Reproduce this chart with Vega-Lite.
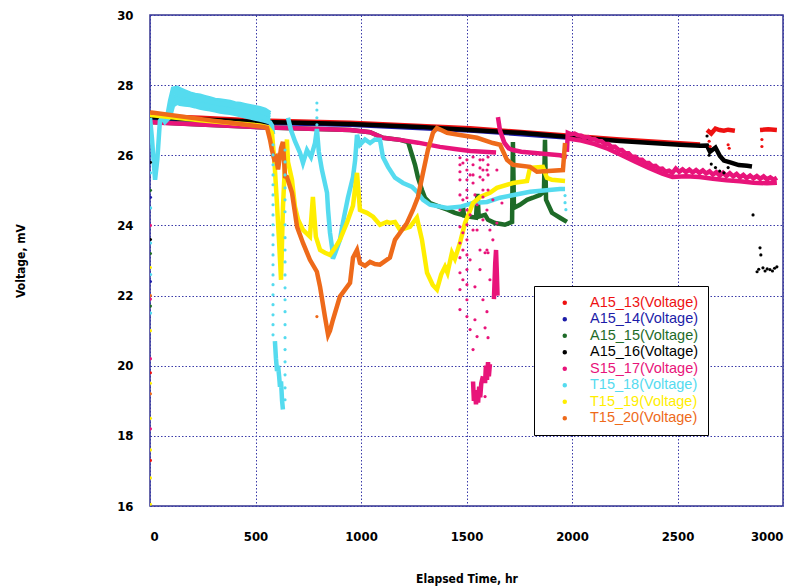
{
"$schema": "https://vega.github.io/schema/vega-lite/v6.json",
"width": 633, "height": 491,
"autosize": {"type": "none"},
"padding": {"left": 150, "top": 15, "right": 17, "bottom": 81},
"background": "white",
"config": {
  "view": {"stroke": "#34348f", "strokeWidth": 1.5},
  "axis": {"labelFont": "'Liberation Sans Narrow', 'DejaVu Sans Condensed', 'Liberation Sans', sans-serif", "labelFontWeight": "bold", "labelFontSize": 13, "labelColor": "#000",
    "titleFont": "'Liberation Sans Narrow', 'DejaVu Sans Condensed', 'Liberation Sans', sans-serif", "titleFontWeight": "bold", "titleFontSize": 12, "titleColor": "#000",
    "gridColor": "#3a3aa8", "gridDash": [1.5, 2], "gridWidth": 1, "gridOpacity": 1, "domain": false, "ticks": false}
},
"datasets": {
"lines": [
{"s":"A15_13","g":"r1","t":0,"v":27.12},{"s":"A15_13","g":"r1","t":237,"v":27.07},{"s":"A15_13","g":"r1","t":521,"v":26.99},{"s":"A15_13","g":"r1","t":948,"v":26.93},{"s":"A15_13","g":"r1","t":1517,"v":26.77},{"s":"A15_13","g":"r1","t":1990,"v":26.56},{"s":"A15_13","g":"r1","t":2227,"v":26.45},{"s":"A15_13","g":"r1","t":2512,"v":26.34},{"s":"A15_13","g":"r1","t":2607,"v":26.31},
{"s":"A15_13","g":"r2","t":2640,"v":26.72},{"s":"A15_13","g":"r2","t":2660,"v":26.62},{"s":"A15_13","g":"r2","t":2680,"v":26.76},{"s":"A15_13","g":"r2","t":2700,"v":26.72},{"s":"A15_13","g":"r2","t":2720,"v":26.70},{"s":"A15_13","g":"r2","t":2740,"v":26.73},{"s":"A15_13","g":"r2","t":2772,"v":26.70},
{"s":"A15_13","g":"r3","t":2891,"v":26.72},{"s":"A15_13","g":"r3","t":2930,"v":26.74},{"s":"A15_13","g":"r3","t":2971,"v":26.72},
{"s":"A15_14","g":"b1","t":0,"v":27.06},{"s":"A15_14","g":"b1","t":521,"v":26.93},{"s":"A15_14","g":"b1","t":948,"v":26.87},{"s":"A15_14","g":"b1","t":1517,"v":26.71},{"s":"A15_14","g":"b1","t":1990,"v":26.50},
{"s":"A15_15","g":"gr1","t":0,"v":26.95},{"s":"A15_15","g":"gr1","t":237,"v":26.88},{"s":"A15_15","g":"gr1","t":521,"v":26.80},{"s":"A15_15","g":"gr1","t":948,"v":26.72},{"s":"A15_15","g":"gr1","t":1043,"v":26.66},{"s":"A15_15","g":"gr1","t":1104,"v":26.50},{"s":"A15_15","g":"gr1","t":1185,"v":26.44},{"s":"A15_15","g":"gr1","t":1223,"v":26.38},{"s":"A15_15","g":"gr1","t":1256,"v":25.73},{"s":"A15_15","g":"gr1","t":1270,"v":25.36},{"s":"A15_15","g":"gr1","t":1289,"v":25.01},{"s":"A15_15","g":"gr1","t":1303,"v":24.79},{"s":"A15_15","g":"gr1","t":1327,"v":24.64},{"s":"A15_15","g":"gr1","t":1374,"v":24.53},{"s":"A15_15","g":"gr1","t":1410,"v":24.45},{"s":"A15_15","g":"gr1","t":1445,"v":24.36},{"s":"A15_15","g":"gr1","t":1479,"v":24.30},{"s":"A15_15","g":"gr1","t":1483,"v":24.55},{"s":"A15_15","g":"gr1","t":1488,"v":24.28},{"s":"A15_15","g":"gr1","t":1517,"v":24.25},{"s":"A15_15","g":"gr1","t":1545,"v":24.22},{"s":"A15_15","g":"gr1","t":1552,"v":24.90},{"s":"A15_15","g":"gr1","t":1558,"v":24.25},{"s":"A15_15","g":"gr1","t":1588,"v":24.30},{"s":"A15_15","g":"gr1","t":1602,"v":24.16},{"s":"A15_15","g":"gr1","t":1635,"v":24.07},{"s":"A15_15","g":"gr1","t":1682,"v":24.02},{"s":"A15_15","g":"gr1","t":1716,"v":24.10},{"s":"A15_15","g":"gr1","t":1720,"v":26.38},{"s":"A15_15","g":"gr1","t":1725,"v":24.50},{"s":"A15_15","g":"gr1","t":1753,"v":24.59},{"s":"A15_15","g":"gr1","t":1787,"v":24.73},{"s":"A15_15","g":"gr1","t":1815,"v":24.79},{"s":"A15_15","g":"gr1","t":1848,"v":24.87},{"s":"A15_15","g":"gr1","t":1867,"v":24.96},{"s":"A15_15","g":"gr1","t":1872,"v":26.44},{"s":"A15_15","g":"gr1","t":1877,"v":24.73},{"s":"A15_15","g":"gr1","t":1905,"v":24.36},{"s":"A15_15","g":"gr1","t":1943,"v":24.22},{"s":"A15_15","g":"gr1","t":1976,"v":24.10},
{"s":"A15_16","g":"k1","t":0,"v":27.09},{"s":"A15_16","g":"k1","t":95,"v":27.06},{"s":"A15_16","g":"k1","t":237,"v":27.02},{"s":"A15_16","g":"k1","t":521,"v":26.95},{"s":"A15_16","g":"k1","t":700,"v":26.93},{"s":"A15_16","g":"k1","t":948,"v":26.89},{"s":"A15_16","g":"k1","t":1280,"v":26.81},{"s":"A15_16","g":"k1","t":1517,"v":26.72},{"s":"A15_16","g":"k1","t":1754,"v":26.64},{"s":"A15_16","g":"k1","t":1990,"v":26.52},{"s":"A15_16","g":"k1","t":2227,"v":26.41},{"s":"A15_16","g":"k1","t":2512,"v":26.30},{"s":"A15_16","g":"k1","t":2607,"v":26.27},{"s":"A15_16","g":"k1","t":2640,"v":26.28},{"s":"A15_16","g":"k1","t":2654,"v":26.10},{"s":"A15_16","g":"k1","t":2680,"v":26.22},{"s":"A15_16","g":"k1","t":2701,"v":25.98},{"s":"A15_16","g":"k1","t":2720,"v":25.85},{"s":"A15_16","g":"k1","t":2750,"v":25.80},{"s":"A15_16","g":"k1","t":2790,"v":25.72},{"s":"A15_16","g":"k1","t":2830,"v":25.70},{"s":"A15_16","g":"k1","t":2853,"v":25.68},
{"s":"S15_17","g":"p1","t":0,"v":26.95},{"s":"S15_17","g":"p1","t":47,"v":26.93},{"s":"S15_17","g":"p1","t":237,"v":26.88},{"s":"S15_17","g":"p1","t":521,"v":26.80},{"s":"S15_17","g":"p1","t":948,"v":26.72},{"s":"S15_17","g":"p1","t":1043,"v":26.66},{"s":"S15_17","g":"p1","t":1104,"v":26.50},{"s":"S15_17","g":"p1","t":1185,"v":26.44},{"s":"S15_17","g":"p1","t":1270,"v":26.36},{"s":"S15_17","g":"p1","t":1374,"v":26.24},{"s":"S15_17","g":"p1","t":1445,"v":26.18},{"s":"S15_17","g":"p1","t":1517,"v":26.12},{"s":"S15_17","g":"p1","t":1580,"v":26.10},{"s":"S15_17","g":"p1","t":1640,"v":26.08},
{"s":"S15_17","g":"p2","t":1649,"v":27.09},{"s":"S15_17","g":"p2","t":1659,"v":26.70},{"s":"S15_17","g":"p2","t":1680,"v":26.35},{"s":"S15_17","g":"p2","t":1700,"v":26.20},{"s":"S15_17","g":"p2","t":1720,"v":26.15},{"s":"S15_17","g":"p2","t":1760,"v":26.10},{"s":"S15_17","g":"p2","t":1850,"v":26.05},{"s":"S15_17","g":"p2","t":1943,"v":26.00},{"s":"S15_17","g":"p2","t":1976,"v":25.95},
{"s":"S15_17","g":"p3","t":1630,"v":21.90},{"s":"S15_17","g":"p3","t":1633,"v":22.40},{"s":"S15_17","g":"p3","t":1636,"v":22.90},{"s":"S15_17","g":"p3","t":1640,"v":23.30},{"s":"S15_17","g":"p3","t":1644,"v":22.60},{"s":"S15_17","g":"p3","t":1647,"v":22.00},
{"s":"S15_17","g":"p4","t":1531,"v":19.55},{"s":"S15_17","g":"p4","t":1535,"v":19.00},{"s":"S15_17","g":"p4","t":1540,"v":19.30},{"s":"S15_17","g":"p4","t":1545,"v":18.90},{"s":"S15_17","g":"p4","t":1550,"v":19.20},{"s":"S15_17","g":"p4","t":1555,"v":18.95},{"s":"S15_17","g":"p4","t":1560,"v":19.40},{"s":"S15_17","g":"p4","t":1565,"v":19.10},{"s":"S15_17","g":"p4","t":1570,"v":19.50},{"s":"S15_17","g":"p4","t":1578,"v":19.70},
{"s":"S15_17","g":"p5","t":1588,"v":19.50},{"s":"S15_17","g":"p5","t":1592,"v":20.00},{"s":"S15_17","g":"p5","t":1597,"v":19.60},{"s":"S15_17","g":"p5","t":1602,"v":20.10},{"s":"S15_17","g":"p5","t":1606,"v":19.70},{"s":"S15_17","g":"p5","t":1611,"v":20.05},
{"s":"S15_17","g":"p6","t":1976,"v":26.10},{"s":"S15_17","g":"p6","t":1980,"v":26.64},{"s":"S15_17","g":"p6","t":1996,"v":26.60},{"s":"S15_17","g":"p6","t":2012,"v":26.62},{"s":"S15_17","g":"p6","t":2028,"v":26.57},{"s":"S15_17","g":"p6","t":2044,"v":26.56},{"s":"S15_17","g":"p6","t":2060,"v":26.50},{"s":"S15_17","g":"p6","t":2076,"v":26.52},{"s":"S15_17","g":"p6","t":2092,"v":26.46},{"s":"S15_17","g":"p6","t":2108,"v":26.46},{"s":"S15_17","g":"p6","t":2124,"v":26.40},{"s":"S15_17","g":"p6","t":2140,"v":26.40},{"s":"S15_17","g":"p6","t":2156,"v":26.32},{"s":"S15_17","g":"p6","t":2172,"v":26.32},{"s":"S15_17","g":"p6","t":2188,"v":26.24},{"s":"S15_17","g":"p6","t":2204,"v":26.24},{"s":"S15_17","g":"p6","t":2220,"v":26.16},{"s":"S15_17","g":"p6","t":2236,"v":26.15},{"s":"S15_17","g":"p6","t":2252,"v":26.06},{"s":"S15_17","g":"p6","t":2268,"v":26.06},{"s":"S15_17","g":"p6","t":2284,"v":25.96},{"s":"S15_17","g":"p6","t":2300,"v":25.96},{"s":"S15_17","g":"p6","t":2316,"v":25.87},{"s":"S15_17","g":"p6","t":2332,"v":25.87},{"s":"S15_17","g":"p6","t":2348,"v":25.78},{"s":"S15_17","g":"p6","t":2364,"v":25.78},{"s":"S15_17","g":"p6","t":2380,"v":25.69},{"s":"S15_17","g":"p6","t":2396,"v":25.70},{"s":"S15_17","g":"p6","t":2412,"v":25.61},{"s":"S15_17","g":"p6","t":2428,"v":25.62},{"s":"S15_17","g":"p6","t":2444,"v":25.53},{"s":"S15_17","g":"p6","t":2460,"v":25.56},{"s":"S15_17","g":"p6","t":2476,"v":25.50},{"s":"S15_17","g":"p6","t":2492,"v":25.62},{"s":"S15_17","g":"p6","t":2508,"v":25.53},{"s":"S15_17","g":"p6","t":2524,"v":25.60},{"s":"S15_17","g":"p6","t":2540,"v":25.52},{"s":"S15_17","g":"p6","t":2556,"v":25.59},{"s":"S15_17","g":"p6","t":2572,"v":25.51},{"s":"S15_17","g":"p6","t":2588,"v":25.58},{"s":"S15_17","g":"p6","t":2604,"v":25.50},{"s":"S15_17","g":"p6","t":2620,"v":25.57},{"s":"S15_17","g":"p6","t":2636,"v":25.48},{"s":"S15_17","g":"p6","t":2652,"v":25.54},{"s":"S15_17","g":"p6","t":2668,"v":25.45},{"s":"S15_17","g":"p6","t":2684,"v":25.52},{"s":"S15_17","g":"p6","t":2700,"v":25.42},{"s":"S15_17","g":"p6","t":2716,"v":25.50},{"s":"S15_17","g":"p6","t":2732,"v":25.41},{"s":"S15_17","g":"p6","t":2748,"v":25.49},{"s":"S15_17","g":"p6","t":2764,"v":25.40},{"s":"S15_17","g":"p6","t":2780,"v":25.47},{"s":"S15_17","g":"p6","t":2796,"v":25.37},{"s":"S15_17","g":"p6","t":2812,"v":25.44},{"s":"S15_17","g":"p6","t":2828,"v":25.35},{"s":"S15_17","g":"p6","t":2844,"v":25.42},{"s":"S15_17","g":"p6","t":2860,"v":25.34},{"s":"S15_17","g":"p6","t":2876,"v":25.41},{"s":"S15_17","g":"p6","t":2892,"v":25.33},{"s":"S15_17","g":"p6","t":2908,"v":25.40},{"s":"S15_17","g":"p6","t":2924,"v":25.31},{"s":"S15_17","g":"p6","t":2940,"v":25.37},{"s":"S15_17","g":"p6","t":2956,"v":25.30},{"s":"S15_17","g":"p6","t":2971,"v":25.36},
{"s":"S15_17","g":"p7","t":1980,"v":26.48},{"s":"S15_17","g":"p7","t":2044,"v":26.42},{"s":"S15_17","g":"p7","t":2108,"v":26.32},{"s":"S15_17","g":"p7","t":2172,"v":26.18},{"s":"S15_17","g":"p7","t":2236,"v":26.00},{"s":"S15_17","g":"p7","t":2300,"v":25.82},{"s":"S15_17","g":"p7","t":2364,"v":25.64},{"s":"S15_17","g":"p7","t":2428,"v":25.48},{"s":"S15_17","g":"p7","t":2476,"v":25.38},{"s":"S15_17","g":"p7","t":2540,"v":25.40},{"s":"S15_17","g":"p7","t":2604,"v":25.38},{"s":"S15_17","g":"p7","t":2668,"v":25.33},{"s":"S15_17","g":"p7","t":2732,"v":25.29},{"s":"S15_17","g":"p7","t":2796,"v":25.26},{"s":"S15_17","g":"p7","t":2860,"v":25.22},{"s":"S15_17","g":"p7","t":2924,"v":25.20},{"s":"S15_17","g":"p7","t":2971,"v":25.22},
{"s":"T15_18","g":"c1","t":0,"v":27.07},{"s":"T15_18","g":"c1","t":9,"v":26.50},{"s":"T15_18","g":"c1","t":24,"v":25.30},{"s":"T15_18","g":"c1","t":35,"v":25.90},{"s":"T15_18","g":"c1","t":47,"v":26.98},{"s":"T15_18","g":"c1","t":57,"v":27.07},{"s":"T15_18","g":"c1","t":71,"v":26.95},{"s":"T15_18","g":"c1","t":95,"v":27.10},{"s":"T15_18","g":"c1","t":109,"v":27.42},{"s":"T15_18","g":"c1","t":128,"v":27.50},{"s":"T15_18","g":"c1","t":142,"v":27.47},{"s":"T15_18","g":"c1","t":166,"v":27.45},{"s":"T15_18","g":"c1","t":190,"v":27.43},{"s":"T15_18","g":"c1","t":213,"v":27.40},{"s":"T15_18","g":"c1","t":237,"v":27.36},{"s":"T15_18","g":"c1","t":260,"v":27.33},{"s":"T15_18","g":"c1","t":284,"v":27.31},{"s":"T15_18","g":"c1","t":308,"v":27.28},{"s":"T15_18","g":"c1","t":332,"v":27.25},{"s":"T15_18","g":"c1","t":356,"v":27.23},{"s":"T15_18","g":"c1","t":379,"v":27.21},{"s":"T15_18","g":"c1","t":403,"v":27.18},{"s":"T15_18","g":"c1","t":427,"v":27.15},{"s":"T15_18","g":"c1","t":450,"v":27.11},{"s":"T15_18","g":"c1","t":474,"v":27.08},{"s":"T15_18","g":"c1","t":497,"v":27.05},{"s":"T15_18","g":"c1","t":521,"v":27.02},{"s":"T15_18","g":"c1","t":545,"v":26.98},{"s":"T15_18","g":"c1","t":569,"v":26.94},{"s":"T15_18","g":"c1","t":578,"v":26.85},{"s":"T15_18","g":"c1","t":583,"v":26.60},
{"s":"T15_18","g":"c1t","t":83,"v":27.15},{"s":"T15_18","g":"c1t","t":95,"v":27.55},{"s":"T15_18","g":"c1t","t":109,"v":27.90},{"s":"T15_18","g":"c1t","t":128,"v":27.92},{"s":"T15_18","g":"c1t","t":142,"v":27.88},{"s":"T15_18","g":"c1t","t":166,"v":27.82},{"s":"T15_18","g":"c1t","t":190,"v":27.76},{"s":"T15_18","g":"c1t","t":213,"v":27.72},{"s":"T15_18","g":"c1t","t":237,"v":27.70},{"s":"T15_18","g":"c1t","t":260,"v":27.66},{"s":"T15_18","g":"c1t","t":284,"v":27.62},{"s":"T15_18","g":"c1t","t":308,"v":27.58},{"s":"T15_18","g":"c1t","t":332,"v":27.56},{"s":"T15_18","g":"c1t","t":356,"v":27.54},{"s":"T15_18","g":"c1t","t":379,"v":27.52},{"s":"T15_18","g":"c1t","t":403,"v":27.48},{"s":"T15_18","g":"c1t","t":427,"v":27.46},{"s":"T15_18","g":"c1t","t":450,"v":27.43},{"s":"T15_18","g":"c1t","t":474,"v":27.40},{"s":"T15_18","g":"c1t","t":497,"v":27.37},{"s":"T15_18","g":"c1t","t":521,"v":27.34},{"s":"T15_18","g":"c1t","t":545,"v":27.30},{"s":"T15_18","g":"c1t","t":569,"v":27.20},
{"s":"T15_18","g":"c1m","t":95,"v":27.32},{"s":"T15_18","g":"c1m","t":109,"v":27.66},{"s":"T15_18","g":"c1m","t":128,"v":27.71},{"s":"T15_18","g":"c1m","t":142,"v":27.68},{"s":"T15_18","g":"c1m","t":166,"v":27.63},{"s":"T15_18","g":"c1m","t":190,"v":27.60},{"s":"T15_18","g":"c1m","t":213,"v":27.56},{"s":"T15_18","g":"c1m","t":237,"v":27.53},{"s":"T15_18","g":"c1m","t":260,"v":27.50},{"s":"T15_18","g":"c1m","t":284,"v":27.46},{"s":"T15_18","g":"c1m","t":308,"v":27.43},{"s":"T15_18","g":"c1m","t":332,"v":27.40},{"s":"T15_18","g":"c1m","t":356,"v":27.38},{"s":"T15_18","g":"c1m","t":379,"v":27.36},{"s":"T15_18","g":"c1m","t":403,"v":27.33},{"s":"T15_18","g":"c1m","t":427,"v":27.30},{"s":"T15_18","g":"c1m","t":450,"v":27.27},{"s":"T15_18","g":"c1m","t":474,"v":27.24},{"s":"T15_18","g":"c1m","t":497,"v":27.21},{"s":"T15_18","g":"c1m","t":521,"v":27.18},{"s":"T15_18","g":"c1m","t":545,"v":27.14},{"s":"T15_18","g":"c1m","t":569,"v":27.07},
{"s":"T15_18","g":"c1q1","t":95,"v":27.21},{"s":"T15_18","g":"c1q1","t":109,"v":27.54},{"s":"T15_18","g":"c1q1","t":128,"v":27.60},{"s":"T15_18","g":"c1q1","t":142,"v":27.58},{"s":"T15_18","g":"c1q1","t":166,"v":27.54},{"s":"T15_18","g":"c1q1","t":190,"v":27.52},{"s":"T15_18","g":"c1q1","t":213,"v":27.48},{"s":"T15_18","g":"c1q1","t":237,"v":27.45},{"s":"T15_18","g":"c1q1","t":260,"v":27.42},{"s":"T15_18","g":"c1q1","t":284,"v":27.39},{"s":"T15_18","g":"c1q1","t":308,"v":27.36},{"s":"T15_18","g":"c1q1","t":332,"v":27.33},{"s":"T15_18","g":"c1q1","t":356,"v":27.31},{"s":"T15_18","g":"c1q1","t":379,"v":27.29},{"s":"T15_18","g":"c1q1","t":403,"v":27.26},{"s":"T15_18","g":"c1q1","t":427,"v":27.23},{"s":"T15_18","g":"c1q1","t":450,"v":27.19},{"s":"T15_18","g":"c1q1","t":474,"v":27.16},{"s":"T15_18","g":"c1q1","t":497,"v":27.13},{"s":"T15_18","g":"c1q1","t":521,"v":27.10},{"s":"T15_18","g":"c1q1","t":545,"v":27.06},{"s":"T15_18","g":"c1q1","t":569,"v":27.00},
{"s":"T15_18","g":"c1q3","t":95,"v":27.44},{"s":"T15_18","g":"c1q3","t":109,"v":27.78},{"s":"T15_18","g":"c1q3","t":128,"v":27.82},{"s":"T15_18","g":"c1q3","t":142,"v":27.78},{"s":"T15_18","g":"c1q3","t":166,"v":27.72},{"s":"T15_18","g":"c1q3","t":190,"v":27.68},{"s":"T15_18","g":"c1q3","t":213,"v":27.64},{"s":"T15_18","g":"c1q3","t":237,"v":27.62},{"s":"T15_18","g":"c1q3","t":260,"v":27.58},{"s":"T15_18","g":"c1q3","t":284,"v":27.54},{"s":"T15_18","g":"c1q3","t":308,"v":27.50},{"s":"T15_18","g":"c1q3","t":332,"v":27.48},{"s":"T15_18","g":"c1q3","t":356,"v":27.46},{"s":"T15_18","g":"c1q3","t":379,"v":27.44},{"s":"T15_18","g":"c1q3","t":403,"v":27.40},{"s":"T15_18","g":"c1q3","t":427,"v":27.38},{"s":"T15_18","g":"c1q3","t":450,"v":27.35},{"s":"T15_18","g":"c1q3","t":474,"v":27.32},{"s":"T15_18","g":"c1q3","t":497,"v":27.29},{"s":"T15_18","g":"c1q3","t":521,"v":27.26},{"s":"T15_18","g":"c1q3","t":545,"v":27.22},{"s":"T15_18","g":"c1q3","t":569,"v":27.14},
{"s":"T15_18","g":"c2","t":592,"v":20.70},{"s":"T15_18","g":"c2","t":597,"v":20.20},{"s":"T15_18","g":"c2","t":602,"v":19.85},{"s":"T15_18","g":"c2","t":607,"v":20.00},{"s":"T15_18","g":"c2","t":612,"v":19.70},{"s":"T15_18","g":"c2","t":616,"v":19.40},{"s":"T15_18","g":"c2","t":621,"v":19.55},{"s":"T15_18","g":"c2","t":626,"v":19.00},{"s":"T15_18","g":"c2","t":630,"v":18.75},
{"s":"T15_18","g":"c3","t":654,"v":27.07},{"s":"T15_18","g":"c3","t":668,"v":26.72},{"s":"T15_18","g":"c3","t":687,"v":26.40},{"s":"T15_18","g":"c3","t":711,"v":26.07},{"s":"T15_18","g":"c3","t":725,"v":25.78},{"s":"T15_18","g":"c3","t":744,"v":26.15},{"s":"T15_18","g":"c3","t":763,"v":25.95},{"s":"T15_18","g":"c3","t":782,"v":26.35},{"s":"T15_18","g":"c3","t":791,"v":26.75},{"s":"T15_18","g":"c3","t":800,"v":26.10},{"s":"T15_18","g":"c3","t":815,"v":25.58},{"s":"T15_18","g":"c3","t":839,"v":24.93},{"s":"T15_18","g":"c3","t":844,"v":24.44},{"s":"T15_18","g":"c3","t":853,"v":23.79},{"s":"T15_18","g":"c3","t":863,"v":23.36},{"s":"T15_18","g":"c3","t":867,"v":23.05},{"s":"T15_18","g":"c3","t":877,"v":23.20},{"s":"T15_18","g":"c3","t":900,"v":23.59},{"s":"T15_18","g":"c3","t":915,"v":24.10},{"s":"T15_18","g":"c3","t":938,"v":24.79},{"s":"T15_18","g":"c3","t":962,"v":25.38},{"s":"T15_18","g":"c3","t":972,"v":25.85},{"s":"T15_18","g":"c3","t":981,"v":26.58},{"s":"T15_18","g":"c3","t":995,"v":26.30},{"s":"T15_18","g":"c3","t":1019,"v":26.45},{"s":"T15_18","g":"c3","t":1043,"v":26.35},{"s":"T15_18","g":"c3","t":1066,"v":26.45},{"s":"T15_18","g":"c3","t":1090,"v":26.44},{"s":"T15_18","g":"c3","t":1104,"v":25.95},{"s":"T15_18","g":"c3","t":1128,"v":25.67},{"s":"T15_18","g":"c3","t":1161,"v":25.36},{"s":"T15_18","g":"c3","t":1199,"v":25.21},{"s":"T15_18","g":"c3","t":1242,"v":25.10},{"s":"T15_18","g":"c3","t":1265,"v":24.96},{"s":"T15_18","g":"c3","t":1294,"v":24.73},{"s":"T15_18","g":"c3","t":1327,"v":24.59},{"s":"T15_18","g":"c3","t":1408,"v":24.50},{"s":"T15_18","g":"c3","t":1469,"v":24.53},{"s":"T15_18","g":"c3","t":1531,"v":24.64},{"s":"T15_18","g":"c3","t":1597,"v":24.67},{"s":"T15_18","g":"c3","t":1659,"v":24.79},{"s":"T15_18","g":"c3","t":1801,"v":24.96},{"s":"T15_18","g":"c3","t":1943,"v":25.04},{"s":"T15_18","g":"c3","t":1967,"v":25.04},
{"s":"T15_19","g":"y1","t":0,"v":27.15},{"s":"T15_19","g":"y1","t":237,"v":27.00},{"s":"T15_19","g":"y1","t":521,"v":26.85},{"s":"T15_19","g":"y1","t":559,"v":26.80},{"s":"T15_19","g":"y1","t":578,"v":26.64},{"s":"T15_19","g":"y1","t":590,"v":25.80},{"s":"T15_19","g":"y1","t":602,"v":24.60},{"s":"T15_19","g":"y1","t":612,"v":23.50},{"s":"T15_19","g":"y1","t":621,"v":22.45},{"s":"T15_19","g":"y1","t":630,"v":24.50},{"s":"T15_19","g":"y1","t":640,"v":25.80},{"s":"T15_19","g":"y1","t":649,"v":26.45},{"s":"T15_19","g":"y1","t":654,"v":25.81},{"s":"T15_19","g":"y1","t":673,"v":25.30},{"s":"T15_19","g":"y1","t":687,"v":24.53},{"s":"T15_19","g":"y1","t":702,"v":24.16},{"s":"T15_19","g":"y1","t":725,"v":23.87},{"s":"T15_19","g":"y1","t":758,"v":23.68},{"s":"T15_19","g":"y1","t":772,"v":24.81},{"s":"T15_19","g":"y1","t":786,"v":23.68},{"s":"T15_19","g":"y1","t":806,"v":23.30},{"s":"T15_19","g":"y1","t":829,"v":23.22},{"s":"T15_19","g":"y1","t":853,"v":23.16},{"s":"T15_19","g":"y1","t":877,"v":23.36},{"s":"T15_19","g":"y1","t":900,"v":23.59},{"s":"T15_19","g":"y1","t":933,"v":24.07},{"s":"T15_19","g":"y1","t":962,"v":24.56},{"s":"T15_19","g":"y1","t":981,"v":25.50},{"s":"T15_19","g":"y1","t":995,"v":24.44},{"s":"T15_19","g":"y1","t":1028,"v":24.36},{"s":"T15_19","g":"y1","t":1057,"v":24.25},{"s":"T15_19","g":"y1","t":1090,"v":24.02},{"s":"T15_19","g":"y1","t":1123,"v":24.10},{"s":"T15_19","g":"y1","t":1137,"v":24.07},{"s":"T15_19","g":"y1","t":1161,"v":24.10},{"s":"T15_19","g":"y1","t":1185,"v":23.87},{"s":"T15_19","g":"y1","t":1232,"v":23.96},{"s":"T15_19","g":"y1","t":1265,"v":24.22},{"s":"T15_19","g":"y1","t":1289,"v":23.59},{"s":"T15_19","g":"y1","t":1313,"v":22.65},{"s":"T15_19","g":"y1","t":1340,"v":22.30},{"s":"T15_19","g":"y1","t":1360,"v":22.17},{"s":"T15_19","g":"y1","t":1380,"v":22.60},{"s":"T15_19","g":"y1","t":1398,"v":22.82},{"s":"T15_19","g":"y1","t":1410,"v":22.65},{"s":"T15_19","g":"y1","t":1431,"v":23.22},{"s":"T15_19","g":"y1","t":1445,"v":23.05},{"s":"T15_19","g":"y1","t":1469,"v":23.50},{"s":"T15_19","g":"y1","t":1493,"v":24.07},{"s":"T15_19","g":"y1","t":1531,"v":24.64},{"s":"T15_19","g":"y1","t":1564,"v":24.81},{"s":"T15_19","g":"y1","t":1611,"v":24.93},{"s":"T15_19","g":"y1","t":1644,"v":25.07},{"s":"T15_19","g":"y1","t":1720,"v":25.21},{"s":"T15_19","g":"y1","t":1787,"v":25.27},{"s":"T15_19","g":"y1","t":1801,"v":25.64},{"s":"T15_19","g":"y1","t":1862,"v":25.67},{"s":"T15_19","g":"y1","t":1881,"v":25.36},{"s":"T15_19","g":"y1","t":1905,"v":25.30},{"s":"T15_19","g":"y1","t":1967,"v":25.27},
{"s":"T15_20","g":"o1","t":0,"v":27.21},{"s":"T15_20","g":"o1","t":9,"v":27.22},{"s":"T15_20","g":"o1","t":270,"v":27.01},{"s":"T15_20","g":"o1","t":536,"v":26.81},{"s":"T15_20","g":"o1","t":555,"v":26.78},{"s":"T15_20","g":"o1","t":569,"v":26.44},{"s":"T15_20","g":"o1","t":578,"v":26.15},{"s":"T15_20","g":"o1","t":588,"v":25.90},{"s":"T15_20","g":"o1","t":597,"v":25.95},{"s":"T15_20","g":"o1","t":607,"v":25.60},{"s":"T15_20","g":"o1","t":621,"v":26.20},{"s":"T15_20","g":"o1","t":630,"v":26.38},{"s":"T15_20","g":"o1","t":640,"v":25.40},{"s":"T15_20","g":"o1","t":649,"v":25.38},{"s":"T15_20","g":"o1","t":673,"v":24.93},{"s":"T15_20","g":"o1","t":697,"v":23.96},{"s":"T15_20","g":"o1","t":725,"v":23.50},{"s":"T15_20","g":"o1","t":758,"v":23.02},{"s":"T15_20","g":"o1","t":791,"v":22.68},{"s":"T15_20","g":"o1","t":806,"v":22.25},{"s":"T15_20","g":"o1","t":829,"v":21.40},{"s":"T15_20","g":"o1","t":844,"v":20.88},{"s":"T15_20","g":"o1","t":853,"v":21.00},{"s":"T15_20","g":"o1","t":867,"v":21.31},{"s":"T15_20","g":"o1","t":900,"v":21.97},{"s":"T15_20","g":"o1","t":948,"v":22.36},{"s":"T15_20","g":"o1","t":962,"v":23.08},{"s":"T15_20","g":"o1","t":981,"v":23.30},{"s":"T15_20","g":"o1","t":995,"v":22.93},{"s":"T15_20","g":"o1","t":1019,"v":22.85},{"s":"T15_20","g":"o1","t":1043,"v":22.96},{"s":"T15_20","g":"o1","t":1066,"v":22.90},{"s":"T15_20","g":"o1","t":1090,"v":22.88},{"s":"T15_20","g":"o1","t":1137,"v":23.08},{"s":"T15_20","g":"o1","t":1161,"v":23.59},{"s":"T15_20","g":"o1","t":1185,"v":23.79},{"s":"T15_20","g":"o1","t":1218,"v":24.07},{"s":"T15_20","g":"o1","t":1246,"v":24.44},{"s":"T15_20","g":"o1","t":1270,"v":24.81},{"s":"T15_20","g":"o1","t":1294,"v":25.50},{"s":"T15_20","g":"o1","t":1317,"v":26.15},{"s":"T15_20","g":"o1","t":1341,"v":26.64},{"s":"T15_20","g":"o1","t":1360,"v":26.78},{"s":"T15_20","g":"o1","t":1408,"v":26.64},{"s":"T15_20","g":"o1","t":1469,"v":26.58},{"s":"T15_20","g":"o1","t":1550,"v":26.50},{"s":"T15_20","g":"o1","t":1625,"v":26.35},{"s":"T15_20","g":"o1","t":1659,"v":26.30},{"s":"T15_20","g":"o1","t":1692,"v":25.87},{"s":"T15_20","g":"o1","t":1720,"v":25.73},{"s":"T15_20","g":"o1","t":1801,"v":25.67},{"s":"T15_20","g":"o1","t":1834,"v":25.53},{"s":"T15_20","g":"o1","t":1957,"v":25.58},{"s":"T15_20","g":"o1","t":1967,"v":26.35}
],
"pts": [
{"s":"A15_13","t":2650,"v":26.40},{"s":"A15_13","t":2655,"v":26.25},{"s":"A15_13","t":2740,"v":26.30},{"s":"A15_13","t":2745,"v":26.20},{"s":"A15_13","t":2900,"v":26.45},{"s":"A15_13","t":2900,"v":26.25},{"s":"A15_13","t":2,"v":19.8},{"s":"A15_13","t":2,"v":17.3},
{"s":"A15_14","t":2,"v":24.8},{"s":"A15_14","t":2,"v":22.4},
{"s":"A15_15","t":2,"v":25.0},{"s":"A15_15","t":2,"v":23.2},{"s":"A15_15","t":2,"v":21.7},
{"s":"A15_16","t":2,"v":25.8},{"s":"A15_16","t":2,"v":23.6},{"s":"A15_16","t":2640,"v":26.55},{"s":"A15_16","t":2650,"v":26.00},{"s":"A15_16","t":2660,"v":25.75},{"s":"A15_16","t":2680,"v":25.65},{"s":"A15_16","t":2700,"v":25.55},{"s":"A15_16","t":2720,"v":25.50},{"s":"A15_16","t":2740,"v":25.65},{"s":"A15_16","t":2858,"v":24.30},{"s":"A15_16","t":2891,"v":23.36},{"s":"A15_16","t":2895,"v":23.16},{"s":"A15_16","t":2877,"v":22.68},{"s":"A15_16","t":2885,"v":22.75},{"s":"A15_16","t":2905,"v":22.79},{"s":"A15_16","t":2915,"v":22.70},{"s":"A15_16","t":2925,"v":22.76},{"s":"A15_16","t":2938,"v":22.74},{"s":"A15_16","t":2950,"v":22.70},{"s":"A15_16","t":2960,"v":22.78},{"s":"A15_16","t":2971,"v":22.82},
{"s":"S15_17","t":2,"v":24.0},{"s":"S15_17","t":2,"v":21.9},{"s":"S15_17","t":2,"v":20.2},{"s":"S15_17","t":2,"v":18.2},
{"s":"S15_17","t":1469,"v":25.93},{"s":"S15_17","t":1469,"v":25.73},{"s":"S15_17","t":1469,"v":25.53},{"s":"S15_17","t":1469,"v":25.30},{"s":"S15_17","t":1469,"v":24.87},{"s":"S15_17","t":1469,"v":24.44},{"s":"S15_17","t":1469,"v":23.96},{"s":"S15_17","t":1469,"v":23.50},{"s":"S15_17","t":1469,"v":23.08},{"s":"S15_17","t":1469,"v":22.65},{"s":"S15_17","t":1469,"v":22.17},{"s":"S15_17","t":1469,"v":21.60},
{"s":"S15_17","t":1483,"v":25.78},{"s":"S15_17","t":1483,"v":24.73},{"s":"S15_17","t":1483,"v":23.79},{"s":"S15_17","t":1483,"v":23.30},{"s":"S15_17","t":1483,"v":22.45},
{"s":"S15_17","t":1502,"v":25.87},{"s":"S15_17","t":1502,"v":25.58},{"s":"S15_17","t":1502,"v":25.30},{"s":"S15_17","t":1502,"v":25.01},{"s":"S15_17","t":1502,"v":24.79},{"s":"S15_17","t":1502,"v":24.44},{"s":"S15_17","t":1502,"v":24.02},{"s":"S15_17","t":1502,"v":23.59},{"s":"S15_17","t":1502,"v":23.16},{"s":"S15_17","t":1502,"v":22.74},{"s":"S15_17","t":1502,"v":22.31},{"s":"S15_17","t":1502,"v":21.88},{"s":"S15_17","t":1502,"v":21.40},
{"s":"S15_17","t":1517,"v":25.44},{"s":"S15_17","t":1517,"v":24.30},{"s":"S15_17","t":1517,"v":23.02},{"s":"S15_17","t":1517,"v":21.03},
{"s":"S15_17","t":1531,"v":25.95},{"s":"S15_17","t":1531,"v":25.73},{"s":"S15_17","t":1531,"v":25.44},{"s":"S15_17","t":1531,"v":25.21},{"s":"S15_17","t":1531,"v":23.87},{"s":"S15_17","t":1531,"v":20.46},
{"s":"S15_17","t":1540,"v":24.87},{"s":"S15_17","t":1540,"v":22.25},{"s":"S15_17","t":1540,"v":21.31},
{"s":"S15_17","t":1550,"v":24.59},{"s":"S15_17","t":1550,"v":23.87},{"s":"S15_17","t":1550,"v":20.83},
{"s":"S15_17","t":1564,"v":25.87},{"s":"S15_17","t":1564,"v":25.64},{"s":"S15_17","t":1564,"v":25.38},{"s":"S15_17","t":1564,"v":23.30},{"s":"S15_17","t":1564,"v":22.74},
{"s":"S15_17","t":1578,"v":25.87},{"s":"S15_17","t":1578,"v":25.58},{"s":"S15_17","t":1578,"v":25.30},{"s":"S15_17","t":1578,"v":25.01},{"s":"S15_17","t":1578,"v":24.81},{"s":"S15_17","t":1578,"v":24.16},{"s":"S15_17","t":1578,"v":21.88},
{"s":"S15_17","t":1588,"v":23.22},{"s":"S15_17","t":1588,"v":21.08},{"s":"S15_17","t":1588,"v":19.12},
{"s":"S15_17","t":1597,"v":25.58},{"s":"S15_17","t":1597,"v":24.44},{"s":"S15_17","t":1597,"v":23.30},{"s":"S15_17","t":1597,"v":21.54},
{"s":"S15_17","t":1602,"v":25.95},{"s":"S15_17","t":1602,"v":25.73},{"s":"S15_17","t":1602,"v":25.44},{"s":"S15_17","t":1602,"v":25.01},{"s":"S15_17","t":1602,"v":23.22},{"s":"S15_17","t":1602,"v":20.80},
{"s":"S15_17","t":1611,"v":23.87},{"s":"S15_17","t":1611,"v":22.45},
{"s":"S15_17","t":1625,"v":24.73},{"s":"S15_17","t":1625,"v":23.59},
{"s":"S15_17","t":1644,"v":25.58},{"s":"S15_17","t":1644,"v":24.07},{"s":"S15_17","t":1668,"v":24.64},
{"s":"T15_18","t":3,"v":25.5},{"s":"T15_18","t":3,"v":24.5},{"s":"T15_18","t":3,"v":23.5},{"s":"T15_18","t":3,"v":22.6},{"s":"T15_18","t":3,"v":21.5},
{"s":"T15_18","t":583,"v":26.30},{"s":"T15_18","t":583,"v":26.01},{"s":"T15_18","t":583,"v":25.73},{"s":"T15_18","t":583,"v":25.44},{"s":"T15_18","t":583,"v":25.16},{"s":"T15_18","t":583,"v":24.87},{"s":"T15_18","t":583,"v":24.59},{"s":"T15_18","t":583,"v":24.30},{"s":"T15_18","t":583,"v":24.02},{"s":"T15_18","t":583,"v":23.73},{"s":"T15_18","t":583,"v":23.45},{"s":"T15_18","t":583,"v":23.16},{"s":"T15_18","t":583,"v":22.88},{"s":"T15_18","t":583,"v":22.59},{"s":"T15_18","t":583,"v":22.31},{"s":"T15_18","t":583,"v":22.02},{"s":"T15_18","t":583,"v":21.74},{"s":"T15_18","t":583,"v":21.45},{"s":"T15_18","t":583,"v":21.17},{"s":"T15_18","t":583,"v":20.88},
{"s":"T15_18","t":640,"v":26.15},{"s":"T15_18","t":640,"v":25.81},{"s":"T15_18","t":640,"v":25.44},{"s":"T15_18","t":640,"v":25.07},{"s":"T15_18","t":640,"v":24.73},{"s":"T15_18","t":640,"v":24.39},{"s":"T15_18","t":640,"v":24.02},{"s":"T15_18","t":640,"v":23.65},{"s":"T15_18","t":640,"v":23.30},{"s":"T15_18","t":640,"v":22.96},{"s":"T15_18","t":640,"v":22.59},{"s":"T15_18","t":640,"v":22.22},{"s":"T15_18","t":640,"v":21.88},{"s":"T15_18","t":640,"v":21.54},{"s":"T15_18","t":640,"v":21.17},{"s":"T15_18","t":640,"v":20.80},{"s":"T15_18","t":640,"v":20.46},{"s":"T15_18","t":640,"v":20.11},{"s":"T15_18","t":640,"v":19.74},{"s":"T15_18","t":640,"v":19.37},{"s":"T15_18","t":640,"v":19.03},
{"s":"T15_18","t":791,"v":27.49},{"s":"T15_18","t":791,"v":27.29},{"s":"T15_18","t":791,"v":27.07},{"s":"T15_18","t":791,"v":26.87},
{"s":"T15_18","t":1967,"v":24.85},{"s":"T15_18","t":1967,"v":24.65},{"s":"T15_18","t":1971,"v":24.45},
{"s":"T15_19","t":2,"v":22.8},{"s":"T15_19","t":2,"v":21.0},{"s":"T15_19","t":2,"v":19.5},{"s":"T15_19","t":2,"v":18.5},{"s":"T15_19","t":2,"v":17.6},{"s":"T15_19","t":2,"v":16.8},{"s":"T15_19","t":2,"v":16.05},
{"s":"T15_20","t":2,"v":22.0},{"s":"T15_20","t":2,"v":19.2},{"s":"T15_20","t":791,"v":21.40}
]
},
"encoding": {
  "x": {"field": "t", "type": "quantitative", "scale": {"domain": [0, 3000], "nice": false},
    "axis": {"values": [0, 500, 1000, 1500, 2000, 2500, 3000], "format": "d", "title": "Elapsed Time, hr", "labelPadding": 24, "titleX": 316.5, "titleY": 72, "titleBaseline": "middle", "titleAlign": "center"}},
  "y": {"field": "v", "type": "quantitative", "scale": {"domain": [16, 30], "nice": false},
    "axis": {"values": [16, 18, 20, 22, 24, 26, 28, 30], "title": "Voltage, mV", "labelPadding": 17, "titleX": -130, "titleY": 245.5, "titleAngle": -90, "titleBaseline": "middle", "titleAlign": "center"}},
  "color": {"field": "s", "type": "nominal",
    "scale": {"domain": ["A15_13", "A15_14", "A15_15", "A15_16", "S15_17", "T15_18", "T15_19", "T15_20"],
      "range": ["#ee1111", "#1c1ca8", "#1e6b28", "#000000", "#e8147a", "#55dbef", "#ffee00", "#ee6a1a"]},
    "legend": {"title": null, "orient": "none", "legendX": 384, "legendY": 271, "direction": "vertical",
      "strokeColor": "#000", "fillColor": "#fff", "padding": 9.5, "labelFont": "Liberation Sans", "labelFontSize": 14.5,
      "labelLimit": 300, "symbolType": "circle", "symbolSize": 9, "symbolOffset": 14, "labelOffset": 18, "rowPadding": 1.5,
      "labelExpr": "datum.label + '(Voltage)'",
      "encode": {
        "labels": {"update": {"fill": {"signal": "scale('color', datum.value)"}}},
        "symbols": {"update": {"fill": {"signal": "scale('color', datum.value)"}, "stroke": {"value": "transparent"}, "opacity": {"value": 1}}}
      }}}
},
"layer": [
  {"data": {"name": "lines"}, "mark": {"type": "line", "strokeWidth": 4.5, "clip": true},
   "encoding": {"detail": {"field": "g"}}},
  {"data": {"name": "pts"}, "mark": {"type": "circle", "size": 10, "opacity": 1, "clip": true}}
]
}
